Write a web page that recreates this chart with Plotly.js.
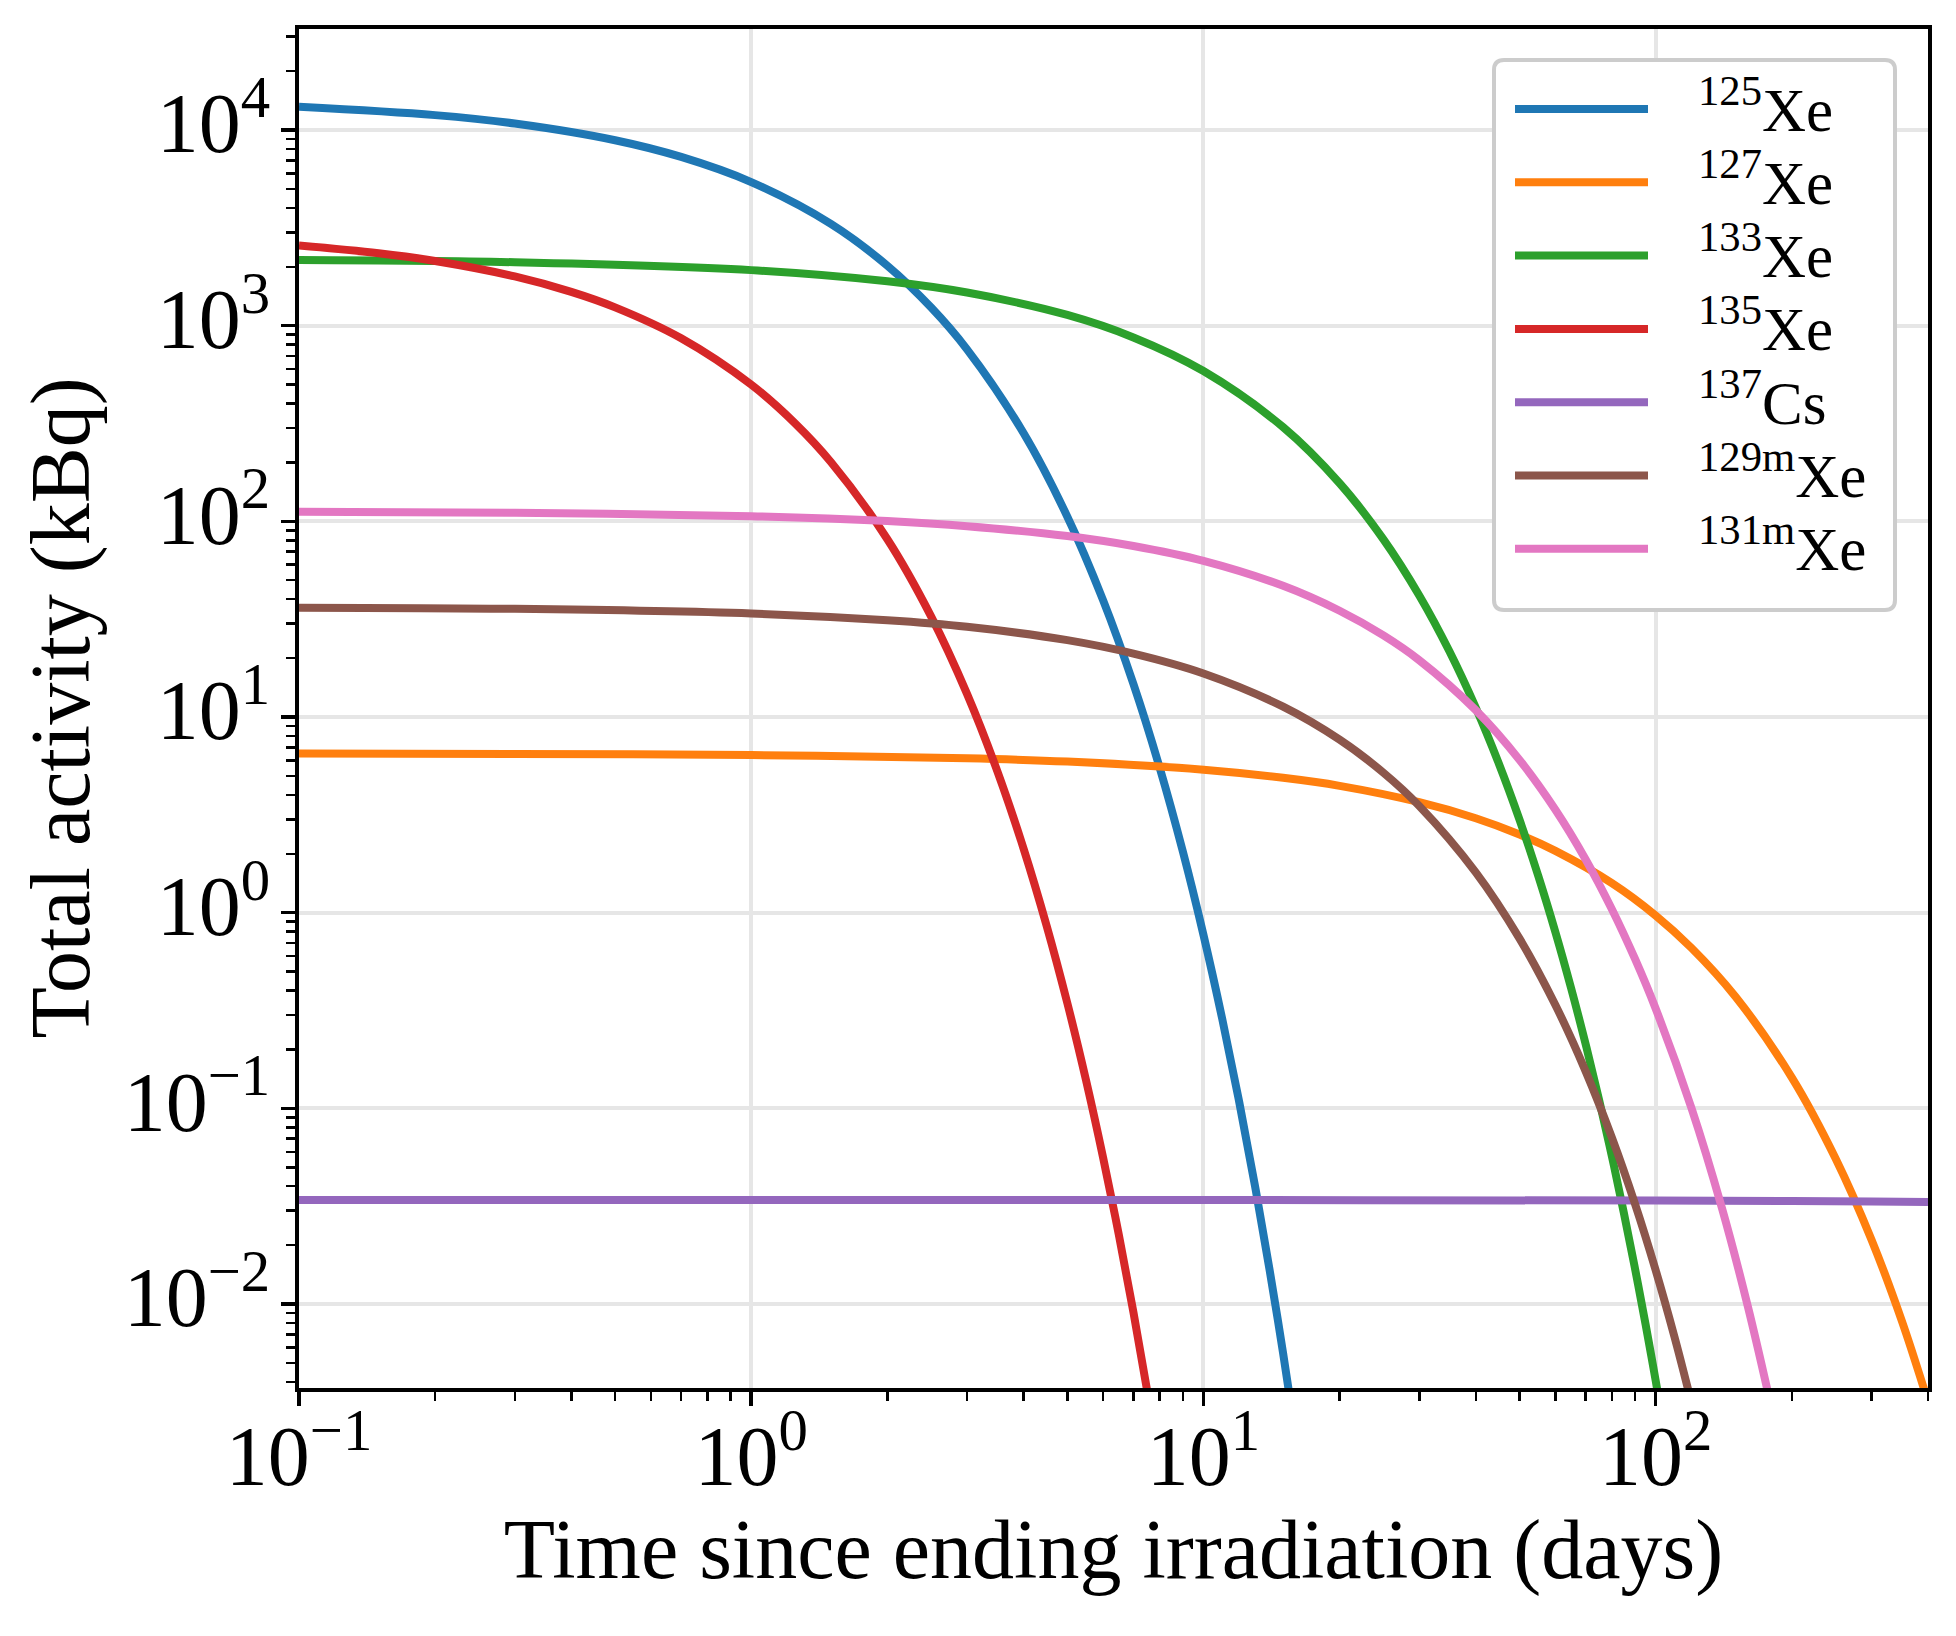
<!DOCTYPE html>
<html>
<head>
<meta charset="utf-8">
<script src="https://cdn.plot.ly/plotly-3.0.1.min.js"></script>
<style>
  html, body { margin: 0; padding: 0; background: #fff; }
  #chart { width: 1956px; height: 1636px; }
</style>
</head>
<body>
<div id="chart"></div>
<script>
// activity, kBq vs days after irradiation
var days125 = [0.1, 0.2, 0.3, 0.5, 0.7, 1, 1.5, 2, 2.5, 3, 4, 5, 6, 7, 8, 9, 10, 11, 12, 13, 14, 15, 16];
var kbq125 = [13140, 11910, 10790, 8864, 7281, 5417, 3313, 2024, 1237, 756.4, 282.6, 105.6, 39.46, 14.74,
    5.508, 2.058, 0.769, 0.287, 0.1073, 0.0401, 0.01498, 0.0056, 0.00209];

var days127 = [0.1, 0.3, 1, 3, 5, 10, 15, 20, 30, 40, 50, 60, 80, 100, 120, 150, 200, 250, 300, 350, 400];
var kbq127 = [6.50, 6.47, 6.39, 6.15, 5.92, 5.38, 4.89, 4.45, 3.67, 3.04, 2.51, 2.07, 1.416, 0.967, 0.660,
    0.373, 0.1437, 0.0553, 0.02133, 0.00822, 0.00317];

var days133 = [0.1, 0.3, 1, 2, 3, 5, 7, 10, 15, 20, 25, 30, 35, 40, 45, 50, 55, 60, 65, 70, 75, 80, 85, 90, 95, 100, 105];
var kbq133 = [2165, 2109, 1922, 1685, 1476, 1134, 870.6, 586, 302.8, 156.5, 80.85, 41.78, 21.6, 11.16, 5.77,
    2.98, 1.54, 0.796, 0.411, 0.2126, 0.1098, 0.0568, 0.02934, 0.01516, 0.00783, 0.00405, 0.00209];

var days135 = [0.1, 0.15, 0.2, 0.3, 0.4, 0.5, 0.7, 1, 1.25, 1.5, 2, 2.5, 3, 3.5, 4, 4.5, 5, 5.5, 6, 6.5, 7, 7.5, 8];
var kbq135 = [2568, 2345, 2141, 1785, 1488, 1240, 861.9, 499.4, 316.9, 201.1, 81.0, 32.6, 13.13, 5.29, 2.13,
    0.857, 0.345, 0.139, 0.0559, 0.02253, 0.00907, 0.00365, 0.00147];

var days137 = [0.1, 1, 10, 100, 200, 300, 400];
var kbq137 = [0.0340, 0.0340, 0.0340, 0.0338, 0.0336, 0.0334, 0.0332];

var days129m = [0.1, 0.3, 1, 2, 3, 5, 7, 10, 15, 20, 25, 30, 40, 50, 60, 70, 80, 90, 100, 110, 120];
var kbq129m = [36.2, 35.7, 33.8, 31.2, 28.9, 24.7, 21.1, 16.7, 11.3, 7.66, 5.19, 3.51, 1.608, 0.737, 0.3375,
    0.1546, 0.0708, 0.03245, 0.01487, 0.00681, 0.00312];

var days131m = [0.1, 0.3, 1, 2, 3, 5, 7, 10, 15, 20, 25, 30, 40, 50, 60, 70, 80, 90, 100, 120, 140, 160, 180];
var kbq131m = [112.0, 110.7, 106.3, 100.3, 94.5, 84.1, 74.8, 62.8, 46.8, 34.9, 26.1, 19.5, 10.84, 6.03, 3.36,
    1.872, 1.042, 0.580, 0.323, 0.1002, 0.0311, 0.00964, 0.00299];

var seriesNames = ['<sup>125</sup>Xe', '<sup>127</sup>Xe', '<sup>133</sup>Xe', '<sup>135</sup>Xe',
    '<sup>137</sup>Cs', '<sup>129m</sup>Xe', '<sup>131m</sup>Xe'];
var seriesDays = [days125, days127, days133, days135, days137, days129m, days131m];
var seriesKbq = [kbq125, kbq127, kbq133, kbq135, kbq137, kbq129m, kbq131m];
var colors = ['#1f77b4', '#ff7f0e', '#2ca02c', '#d62728', '#9467bd', '#8c564b', '#e377c2'];

var xTickVals = [0.1, 1, 10, 100];
var xTickText = ['10<sup>\u22121</sup>', '10<sup>0</sup>', '10<sup>1</sup>', '10<sup>2</sup>'];
var yTickVals = [0.01, 0.1, 1, 10, 100, 1000, 10000];
var yTickText = ['10<sup>\u22122</sup>', '10<sup>\u22121</sup>', '10<sup>0</sup>', '10<sup>1</sup>',
    '10<sup>2</sup>', '10<sup>3</sup>', '10<sup>4</sup>'];

function minorTicks(fromExp, toExp) {
    var vals = [];
    for (var e = fromExp; e <= toExp; e++) {
        for (var m = 2; m <= 9; m++) vals.push(m * Math.pow(10, e));
    }
    return vals;
}

var FONT = '"Liberation Serif", "Times New Roman", serif';

// plot area in pixels, used to place the hand-made legend
var W = 1956, H = 1636;
var plotL = 299, plotR = 1928, plotT = 29, plotB = 1388;
function px(x) { return (x - plotL) / (plotR - plotL); }
function py(y) { return (plotB - y) / (plotB - plotT); }

var traces = seriesNames.map(function (name, i) {
    return {
        x: seriesDays[i],
        y: seriesKbq[i],
        name: name,
        mode: 'lines',
        line: { color: colors[i], width: 8, shape: 'spline', smoothing: 1 },
        hoverinfo: 'skip',
        showlegend: false
    };
});

// legend: rounded frame, line samples and labels
var box = { x0: px(1494), x1: px(1895), y0: py(610), y1: py(60) };
var rx = 10 / (plotR - plotL), ry = 10 / (plotB - plotT);
var boxPath = 'M' + (box.x0 + rx) + ',' + box.y1 +
    ' L' + (box.x1 - rx) + ',' + box.y1 +
    ' Q' + box.x1 + ',' + box.y1 + ' ' + box.x1 + ',' + (box.y1 - ry) +
    ' L' + box.x1 + ',' + (box.y0 + ry) +
    ' Q' + box.x1 + ',' + box.y0 + ' ' + (box.x1 - rx) + ',' + box.y0 +
    ' L' + (box.x0 + rx) + ',' + box.y0 +
    ' Q' + box.x0 + ',' + box.y0 + ' ' + box.x0 + ',' + (box.y0 + ry) +
    ' L' + box.x0 + ',' + (box.y1 - ry) +
    ' Q' + box.x0 + ',' + box.y1 + ' ' + (box.x0 + rx) + ',' + box.y1 + ' Z';

var shapes = [{
    type: 'path', xref: 'paper', yref: 'paper', path: boxPath,
    fillcolor: '#ffffff', line: { color: '#cccccc', width: 4 }, layer: 'above'
}];
var annotations = [];
var rowTop = 109, rowGap = 73.3;
seriesNames.forEach(function (name, i) {
    var yc = py(rowTop + i * rowGap);
    shapes.push({
        type: 'line', xref: 'paper', yref: 'paper',
        x0: px(1515), x1: px(1648), y0: yc, y1: yc,
        line: { color: colors[i], width: 8 }, layer: 'above'
    });
    annotations.push({
        xref: 'paper', yref: 'paper', x: px(1696), y: yc,
        xanchor: 'left', yanchor: 'middle', yshift: 4,
        text: name, showarrow: false,
        font: { family: FONT, size: 61, color: '#000' }
    });
});

// y axis title placed by hand (axis title standoff is ignored without automargin)
annotations.push({
    xref: 'paper', yref: 'paper', x: px(60), y: 0.5,
    xanchor: 'center', yanchor: 'middle', textangle: -90,
    text: 'Total activity (kBq)', showarrow: false,
    font: { family: FONT, size: 84, color: '#000' }
});

var layout = {
    width: W,
    height: H,
    margin: { l: plotL, r: W - plotR, t: plotT, b: H - plotB, pad: 0 },
    paper_bgcolor: '#ffffff',
    plot_bgcolor: '#ffffff',
    font: { family: FONT, color: '#000000', size: 84 },
    showlegend: false,
    xaxis: {
        type: 'log',
        range: [-1, Math.log10(400)],
        tickmode: 'array',
        tickvals: xTickVals,
        ticktext: xTickText,
        ticks: 'outside',
        ticklen: 14,
        tickwidth: 3.5,
        tickcolor: '#000',
        ticklabelstandoff: -22,
        tickfont: { family: FONT, size: 84, color: '#000' },
        showgrid: true,
        gridcolor: '#e6e6e6',
        gridwidth: 4,
        zeroline: false,
        showline: true,
        linecolor: '#000',
        linewidth: 4,
        mirror: true,
        minor: {
            tickvals: minorTicks(-1, 2),
            ticks: 'outside',
            ticklen: 9,
            tickwidth: 2.5,
            tickcolor: '#000',
            showgrid: false
        },
        title: {
            text: 'Time since ending irradiation (days)',
            font: { family: FONT, size: 84, color: '#000' },
            standoff: 16
        }
    },
    yaxis: {
        type: 'log',
        range: [-2.429, 4.516],
        tickmode: 'array',
        tickvals: yTickVals,
        ticktext: yTickText,
        ticks: 'outside',
        ticklen: 14,
        tickwidth: 3.5,
        tickcolor: '#000',
        ticklabelstandoff: -6,
        ticklabelshift: -7,
        tickfont: { family: FONT, size: 84, color: '#000' },
        showgrid: true,
        gridcolor: '#e6e6e6',
        gridwidth: 4,
        zeroline: false,
        showline: true,
        linecolor: '#000',
        linewidth: 4,
        mirror: true,
        minor: {
            tickvals: minorTicks(-3, 4),
            ticks: 'outside',
            ticklen: 9,
            tickwidth: 2.5,
            tickcolor: '#000',
            showgrid: false
        }
    },
    shapes: shapes,
    annotations: annotations
};

Plotly.newPlot('chart', traces, layout, { staticPlot: true, displayModeBar: false });
</script>
</body>
</html>
